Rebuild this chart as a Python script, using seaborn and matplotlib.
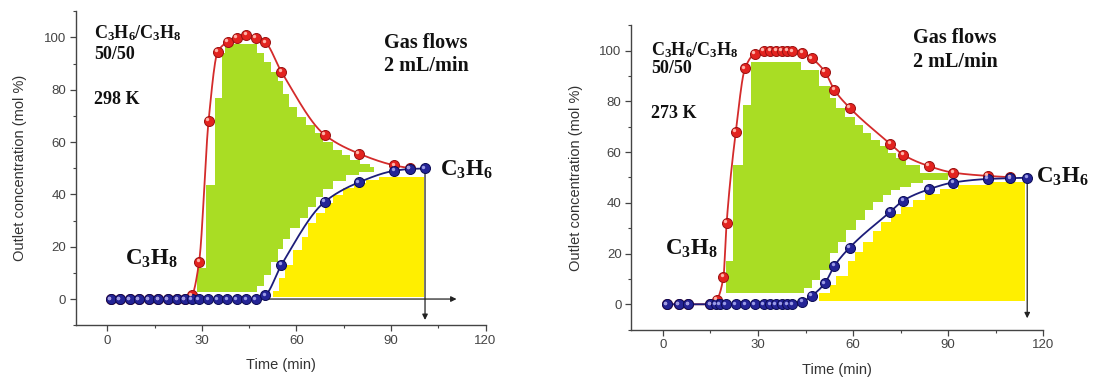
import numpy as np
import pandas as pd
import matplotlib
matplotlib.use("Agg")
import matplotlib.pyplot as plt
from matplotlib import transforms
import seaborn as sns

# ---------------- data ----------------
# Left panel: 298 K
redL_t = [1, 3.9, 7, 10, 13.1, 16.1, 19.1, 22.1, 24.6, 26.8, 29.1, 32.1, 35.0, 38.2,
          41.0, 44.0, 47.0, 50.1, 55.2, 69.0, 79.8, 91.0, 96.0]
redL_v = [0, 0, 0, 0, 0, 0, 0, 0, 0, 1.5, 14.3, 68.2, 94.5, 98.3,
          99.9, 100.9, 99.9, 98.1, 86.9, 62.7, 55.6, 51.1, 50.0]
bluL_t = [1, 3.9, 7, 10, 13.1, 16.1, 19.1, 22.1, 24.6, 26.8, 28.9, 32.0, 35.0, 38.1,
          41.1, 44.0, 47.0, 50.1, 55.2, 69.0, 79.8, 91.0, 96.0, 100.8]
bluL_v = [0, 0, 0, 0, 0, 0, 0, 0, 0, 0, 0, 0, 0, 0,
          0, 0, 0, 1.5, 13.0, 37.2, 44.6, 49.0, 49.7, 49.9]

# green (adsorbed C3H6) region, stepped: edges + level of each step
gL_top_t = [28.4, 31.3, 34.0, 36.4, 37.2, 47.5, 49.7, 51.8, 54.0, 55.6, 57.7, 60.3,
            63.1, 65.8, 68.4, 71.6, 74.3, 76.9, 80.1, 83.3, 84.7]
gL_top_v = [12, 43.6, 77, 94, 97.5, 94, 90.7, 86.8, 83.5, 78.5, 73.3, 69.5,
            66.5, 63.3, 60.1, 56.9, 55, 53.1, 51.5, 50.5]
gL_bot_t = [28.4, 47.5, 49.7, 51.8, 54.0, 55.6, 57.9, 61.1, 63.7, 66.3, 68.4, 71.6,
            75.8, 80.0, 84.7]
gL_bot_v = [2.5, 5, 9, 14, 19, 23, 27, 31, 35.3, 39.1, 42, 45, 47.3, 48.6]
# yellow region
yL_t = [52.7, 54.5, 56.5, 58.8, 61.6, 63.7, 66.3, 68.9, 71.6, 74.7, 78.4, 82.1, 86.3, 100.5]
yL_v = [3, 8, 13, 18.8, 23.8, 29.2, 32.7, 36.6, 39.8, 42.4, 44.2, 45.5, 46.8]
yL_base = 0.8

# Right panel: 273 K
redR_t = [1.2, 5, 8, 15, 16.9, 19.1, 20.1, 23.0, 25.9, 28.9, 31.9, 33.8, 35.7, 37.5,
          39.3, 40.8, 44.0, 46.9, 51.1, 54.1, 58.9, 71.8, 75.9, 83.9, 91.6, 102.5, 109.6]
redR_v = [0, 0, 0, 0, 1.7, 10.9, 32.2, 68.1, 93.0, 98.7, 99.9, 100, 100, 100,
          100, 99.8, 99.2, 97.0, 91.7, 84.5, 77.5, 63.2, 58.9, 54.5, 51.9, 50.6, 50.1]
bluR_t = [1.2, 5, 8, 15, 16.6, 17.9, 19.8, 23, 26, 28.9, 31.9, 33.8, 35.6, 37.5,
          39.3, 40.8, 44.0, 46.9, 51.1, 54.1, 58.9, 71.8, 75.9, 83.9, 91.6, 102.5, 109.6, 115]
bluR_v = [0, 0, 0, 0, 0, 0, 0, 0, 0, 0, 0, 0, 0, 0,
          0, 0, 1.0, 3.3, 8.3, 15.1, 22.3, 36.5, 40.9, 45.3, 48.0, 49.4, 49.7, 49.9]

gR_top_t = [20.0, 22.2, 25.2, 27.9, 43.6, 49.4, 52.6, 54.7, 57.4, 60.5, 63.2, 65.8,
            68.4, 71.1, 73.7, 76.8, 81.1, 90.0]
gR_top_v = [17, 55, 78.6, 95.4, 92.4, 86, 81.2, 77.5, 73.9, 70.7, 67.4, 64.8,
            62.2, 59.5, 57.5, 55, 51.6]
gR_bot_t = [20.0, 44.5, 47.0, 49.6, 52.6, 55.3, 57.9, 61.0, 63.7, 66.3, 69.5, 72.1,
            74.7, 78.4, 82.1, 90.0]
gR_bot_v = [4.3, 6.5, 9.5, 13.5, 20.1, 24.7, 29.3, 33.2, 37.2, 40.5, 43.1, 45.1,
            46.4, 47.7, 49.0]
yR_t = [49.3, 52.6, 54.7, 58.4, 60.5, 63.2, 66.3, 68.9, 72.1, 75.3, 78.9, 82.6, 87.4,
        93.2, 103.2, 114.2]
yR_v = [4.3, 7.6, 11, 17, 20.8, 24.7, 29, 32.6, 35.5, 38.5, 41, 43.5, 45.3, 47, 48.4]
yR_base = 1.2

x_ticks = [0, 30, 60, 90, 120]
y_ticks = [0, 20, 40, 60, 80, 100]

# ---------------- style ----------------
sns.set_theme(style="ticks")
plt.rcParams["font.family"] = ["Liberation Sans", "DejaVu Sans"]
plt.rcParams["mathtext.fontset"] = "custom"
plt.rcParams["mathtext.rm"] = "Liberation Serif"
plt.rcParams["mathtext.bf"] = "Liberation Serif:bold"
plt.rcParams["mathtext.it"] = "Liberation Serif:italic"

GREEN = "#A9DD24"
YELLOW = "#FFEF00"
RED_LINE = "#D42B2B"
RED_FACE = "#E3231F"
RED_EDGE = "#9A1212"
BLUE_LINE = "#1D1D7A"
BLUE_FACE = "#242496"
BLUE_EDGE = "#0D0D55"
AX_COL = "#444444"
SERIF = ["Liberation Serif", "DejaVu Serif"]


def pchip(x, y, n=600):
    x = np.asarray(x, float)
    y = np.asarray(y, float)
    h = np.diff(x)
    d = np.diff(y) / h
    m = np.zeros_like(x)
    for k in range(1, len(x) - 1):
        if d[k - 1] * d[k] <= 0:
            m[k] = 0.0
        else:
            w1 = 2 * h[k] + h[k - 1]
            w2 = h[k] + 2 * h[k - 1]
            m[k] = (w1 + w2) / (w1 / d[k - 1] + w2 / d[k])
    m[0] = d[0]
    m[-1] = d[-1]
    xs = np.linspace(x[0], x[-1], n)
    idx = np.clip(np.searchsorted(x, xs) - 1, 0, len(x) - 2)
    hh = h[idx]
    s = (xs - x[idx]) / hh
    h00 = 2 * s**3 - 3 * s**2 + 1
    h10 = s**3 - 2 * s**2 + s
    h01 = -2 * s**3 + 3 * s**2
    h11 = s**3 - s**2
    ys = h00 * y[idx] + h10 * hh * m[idx] + h01 * y[idx + 1] + h11 * hh * m[idx + 1]
    return xs, ys


def step_at(edges, vals, grid):
    edges = np.asarray(edges, float)
    vals = list(vals) + [vals[-1]]
    idx = np.clip(np.searchsorted(edges, grid, side="right") - 1, 0, len(vals) - 1)
    return np.asarray(vals)[idx]


def draw_panel(ax, fig, red_t, red_v, blu_t, blu_v, gt_t, gt_v, gb_t, gb_v,
               y_t, y_v, y_base, harrow, varrow_x, varrow_bot, texts):
    # green stepped region
    grid = np.unique(np.concatenate([gt_t, gb_t]))
    top = step_at(gt_t, gt_v, grid)
    bot = step_at(gb_t, gb_v, grid)
    ax.fill_between(grid, bot, top, step="post", color=GREEN, linewidth=0, zorder=1)
    # yellow stepped region
    ax.fill_between(y_t, y_base, list(y_v) + [y_v[-1]], step="post",
                    color=YELLOW, linewidth=0, zorder=1)

    # arrows
    ax.annotate("", xy=(harrow[1], 0), xytext=(harrow[0], 0),
                arrowprops=dict(arrowstyle="-|>", color="#222222", lw=0.9,
                                mutation_scale=8, shrinkA=0, shrinkB=0), zorder=2)
    ax.annotate("", xy=(varrow_x, varrow_bot), xytext=(varrow_x, 50),
                arrowprops=dict(arrowstyle="-|>", color="#222222", lw=0.9,
                                mutation_scale=8, shrinkA=0, shrinkB=0), zorder=2)

    # smooth curves
    for t, v, lc in [(red_t, red_v, RED_LINE), (blu_t, blu_v, BLUE_LINE)]:
        xs, ys = pchip(t, v)
        sns.lineplot(x=xs, y=ys, ax=ax, color=lc, linewidth=1.3, zorder=3,
                     estimator=None, sort=False)

    hl = transforms.offset_copy(ax.transData, fig=fig, x=-1.1, y=1.1, units="points")
    for t, v, fc, ec, hc in [(red_t, red_v, RED_FACE, RED_EDGE, "#FFB3A8"),
                             (blu_t, blu_v, BLUE_FACE, BLUE_EDGE, "#9C9CE6")]:
        sns.scatterplot(x=t, y=v, ax=ax, color=fc, edgecolor=ec, s=52,
                        linewidth=0.7, zorder=4, legend=False)
        ax.scatter(t, v, s=6, color=hc, linewidths=0, zorder=5, transform=hl)

    for (x, y, s, size, kw) in texts:
        ax.text(x, y, s, fontsize=size, color="#111111", zorder=6, clip_on=False, **kw)

    ax.set_xlim(-10, 120)
    ax.set_ylim(-10, 110)
    ax.set_xticks(x_ticks)
    ax.set_yticks(y_ticks)
    ax.set_xticks(np.arange(15, 120, 30), minor=True)
    ax.set_yticks(np.arange(-10, 111, 10), minor=True)
    ax.tick_params(which="major", direction="out", length=4, width=0.9,
                   color=AX_COL, labelsize=9.5, labelcolor="#444444", pad=3)
    ax.tick_params(which="minor", direction="out", length=2.2, width=0.8, color=AX_COL)
    ax.set_xlabel("Time (min)", fontsize=10.5, color="#333333", labelpad=8)
    ax.set_ylabel("Outlet concentration (mol %)", fontsize=10.5, color="#333333",
                  labelpad=12)
    sns.despine(ax=ax)
    for sp in ["left", "bottom"]:
        ax.spines[sp].set_color(AX_COL)
        ax.spines[sp].set_linewidth(1.0)


fig = plt.figure(figsize=(10.93, 3.80), dpi=100)
fig.patch.set_facecolor("white")
axL = fig.add_axes([0.0695, 0.1442, 0.3747, 0.8263])
axR = fig.add_axes([0.5776, 0.1324, 0.3767, 0.8013])

lbl = dict(fontfamily=SERIF, va="center", ha="left")
textsL = [
    (-4.3, 101.5, r"$\mathbf{C_3H_6/C_3H_8}$", 13, lbl),
    (-4.3, 93.5, "50/50", 13, dict(fontweight="bold", **lbl)),
    (-4.3, 76.3, "298 K", 13, dict(fontweight="bold", **lbl)),
    (87.8, 98.0, "Gas flows", 14.5, dict(fontweight="bold", **lbl)),
    (87.8, 89.0, "2 mL/min", 14.5, dict(fontweight="bold", **lbl)),
    (5.7, 15.5, r"$\mathbf{C_3H_8}$", 16.5, lbl),
    (105.6, 49.3, r"$\mathbf{C_3H_6}$", 16.5, lbl),
]
textsR = [
    (-3.7, 100.2, r"$\mathbf{C_3H_6/C_3H_8}$", 13, lbl),
    (-3.7, 93.0, "50/50", 13, dict(fontweight="bold", **lbl)),
    (-3.7, 75.3, "273 K", 13, dict(fontweight="bold", **lbl)),
    (78.8, 104.8, "Gas flows", 14.5, dict(fontweight="bold", **lbl)),
    (78.8, 95.6, "2 mL/min", 14.5, dict(fontweight="bold", **lbl)),
    (0.5, 22.0, r"$\mathbf{C_3H_8}$", 16.5, lbl),
    (117.8, 50.3, r"$\mathbf{C_3H_6}$", 16.5, lbl),
]

draw_panel(axL, fig, redL_t, redL_v, bluL_t, bluL_v, gL_top_t, gL_top_v,
           gL_bot_t, gL_bot_v, yL_t, yL_v, yL_base, (50.4, 110.8), 100.8, -8.0, textsL)
draw_panel(axR, fig, redR_t, redR_v, bluR_t, bluR_v, gR_top_t, gR_top_v,
           gR_bot_t, gR_bot_v, yR_t, yR_v, yR_base, (44.0, 120.6), 115.0, -5.5, textsR)

fig.savefig("out.png", dpi=100, facecolor="white")
